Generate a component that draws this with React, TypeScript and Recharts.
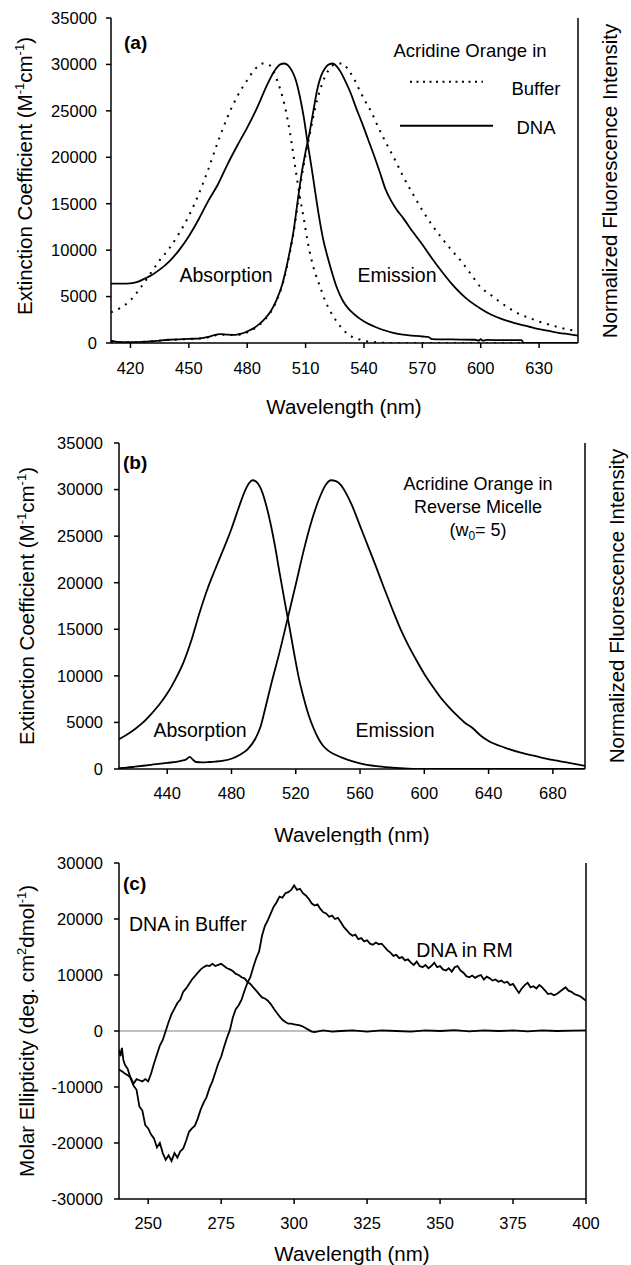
import React from "react";
import { LineChart, Line, XAxis, YAxis, Legend, ReferenceLine } from "recharts";

type Pt = [number, number];

// (a) Acridine Orange in buffer (dotted) and bound to DNA (solid)
const absBufferA: Pt[] = [
  [410, 3300], [415, 3800], [420, 4600], [425, 5900], [430, 7400], [435, 8900], [440, 10200],
  [445, 11800], [450, 13700], [455, 16000], [460, 18700], [465, 21700], [470, 24400], [475, 26600],
  [480, 28300], [484, 29500], [488, 30100], [491, 30000], [494, 29000], [497, 27300], [499, 25800],
  [501, 23800], [503, 21300], [505, 18500], [507, 15800], [509, 13500], [511, 11000], [513, 9000],
  [515, 7500], [517, 6300], [520, 4600], [523, 3300], [526, 2300], [529, 1500], [532, 900],
  [536, 500], [540, 250], [545, 100], [550, 30], [555, 0], [650, 0],
];
const emBufferA: Pt[] = [
  [410, 100], [420, 80], [430, 180], [440, 330], [450, 430], [455, 470], [460, 620], [463, 800],
  [466, 900], [470, 870], [474, 850], [477, 950], [480, 1150], [483, 1450], [486, 1900], [489, 2500],
  [492, 3300], [495, 4500], [498, 6200], [500, 7800], [502, 9800], [504, 12100], [506, 15000],
  [508, 17900], [510, 20200], [512, 22300], [514, 24400], [516, 26200], [518, 27600], [520, 28700],
  [523, 29700], [526, 30100], [529, 30100], [532, 29400], [535, 28400], [538, 27100], [541, 25900],
  [544, 24800], [547, 23400], [550, 22100], [553, 20900], [556, 19700], [560, 18000], [565, 16100],
  [570, 14300], [575, 12700], [580, 11300], [585, 10000], [590, 8800], [595, 7400], [600, 6000],
  [605, 5200], [610, 4400], [615, 3700], [620, 3100], [625, 2700], [630, 2300], [635, 2000],
  [640, 1700], [645, 1450], [650, 1250],
];
const absDnaA: Pt[] = [
  [410, 6400], [414, 6400], [418, 6400], [421, 6450], [424, 6600], [427, 6900], [430, 7200],
  [435, 7900], [440, 8800], [445, 10000], [450, 11500], [455, 13300], [460, 15300], [465, 17100],
  [470, 19300], [475, 21300], [480, 23200], [485, 25300], [490, 27700], [494, 29300], [497, 30000],
  [499, 30100], [501, 29900], [503, 29300], [505, 28300], [507, 26600], [509, 24400], [511, 21600],
  [513, 19000], [515, 16200], [517, 13500], [519, 11200], [521, 9500], [523, 8000], [526, 6000],
  [529, 4600], [532, 3700], [535, 3100], [538, 2600], [541, 2200], [545, 1800], [550, 1400],
  [555, 1100], [560, 900], [565, 800], [570, 700], [573, 650], [575, 420], [585, 380], [597, 350],
  [599, 250], [600, 420], [601, 250], [603, 330], [612, 300], [621, 300], [622, 0], [650, 0],
];
const emDnaA: Pt[] = [
  [410, 250], [413, 120], [420, 80], [430, 180], [440, 350], [450, 450], [455, 480], [460, 650],
  [463, 850], [466, 950], [470, 900], [474, 880], [477, 1000], [480, 1250], [483, 1550], [486, 2000],
  [489, 2600], [492, 3400], [495, 4600], [498, 6300], [500, 8000], [502, 10000], [504, 12300],
  [506, 15400], [508, 18300], [510, 20600], [512, 22600], [514, 25000], [516, 27300], [518, 28800],
  [520, 29600], [522, 30000], [524, 30100], [526, 29800], [528, 29200], [530, 28400], [533, 27000],
  [536, 25300], [539, 23700], [542, 22000], [545, 20300], [548, 18500], [551, 16600], [554, 15300],
  [557, 14300], [560, 13500], [565, 12000], [570, 10600], [575, 9100], [580, 7700], [585, 6400],
  [590, 5300], [595, 4400], [600, 3700], [605, 3100], [610, 2650], [615, 2300], [620, 2000],
  [625, 1750], [630, 1500], [635, 1300], [640, 1100], [645, 950], [650, 800],
];
const ticksXA = [420, 450, 480, 510, 540, 570, 600, 630];
const ticksYAB = [0, 5000, 10000, 15000, 20000, 25000, 30000, 35000];
const legendNamesA = ["Buffer", "DNA"];

// (b) Acridine Orange in reverse micelle, w0 = 5
const absRmB: Pt[] = [
  [410, 3200], [415, 3700], [420, 4300], [425, 5000], [430, 5900], [435, 6900], [440, 8100],
  [445, 9600], [450, 11400], [455, 13800], [460, 16700], [465, 19300], [470, 21500], [475, 23600],
  [480, 25800], [485, 28300], [488, 29700], [491, 30700], [493, 31000], [495, 30900], [498, 30200],
  [501, 28700], [504, 26600], [507, 24000], [510, 21000], [513, 18100], [516, 15300], [519, 12400],
  [522, 9700], [525, 7600], [528, 5800], [531, 4400], [534, 3300], [537, 2500], [540, 2000],
  [545, 1500], [550, 1150], [555, 850], [560, 600], [570, 300], [580, 150], [590, 50], [600, 0],
  [700, 0],
];
const emRmB: Pt[] = [
  [410, 80], [415, 150], [420, 250], [430, 450], [440, 650], [448, 850], [452, 1050], [454, 1300],
  [456, 1000], [458, 750], [462, 720], [466, 750], [470, 800], [475, 900], [480, 1100], [485, 1500],
  [490, 2100], [495, 3300], [498, 4500], [501, 6500], [505, 9300], [510, 12600], [515, 16200],
  [520, 19800], [525, 23500], [530, 26700], [535, 29200], [539, 30600], [542, 31000], [545, 30900],
  [548, 30500], [551, 29700], [555, 28300], [560, 26100], [565, 23900], [570, 21700], [575, 19400],
  [580, 17200], [585, 15100], [590, 13300], [595, 11700], [600, 10200], [605, 8900], [610, 7700],
  [615, 6700], [620, 5800], [625, 5000], [630, 4400], [635, 3600], [640, 3000], [650, 2300],
  [660, 1750], [670, 1350], [680, 970], [690, 650], [700, 330],
];
const ticksXB = [440, 480, 520, 560, 600, 640, 680];

// (c) CD spectra of DNA
const cdBufferC: Pt[] = [
  [240, -6900], [241, -7200], [242, -7600], [243, -7900], [244, -8300], [245, -9400], [246, -8600],
  [247, -8800], [248, -9000], [249, -8600], [250, -9000], [251, -7600], [252, -5800], [253, -4200],
  [254, -2600], [255, -1600], [256, 0], [257, 1600], [258, 3000], [259, 4000], [260, 5000],
  [261, 5600], [262, 7000], [263, 7600], [264, 8400], [265, 9200], [266, 9800], [267, 10400],
  [268, 11000], [269, 11400], [270, 11700], [271, 11600], [272, 12000], [273, 11600], [274, 11800],
  [275, 12000], [276, 11600], [277, 11200], [278, 11000], [279, 10700], [280, 10200], [281, 10000],
  [282, 9600], [283, 9400], [284, 8800], [285, 8400], [286, 7800], [287, 7200], [288, 6600],
  [289, 6000], [290, 5800], [291, 5400], [292, 4800], [293, 4000], [294, 3300], [295, 2600],
  [296, 2000], [297, 1600], [298, 1300], [299, 1300], [300, 1200], [301, 1100], [302, 1000],
  [303, 800], [304, 500], [305, 200], [306, -100], [307, -200], [310, 100], [313, -100], [316, 0],
  [320, 100], [325, -100], [330, 100], [335, 0], [340, -100], [345, 100], [350, 0], [355, 150],
  [360, -50], [365, 100], [370, 0], [375, 100], [380, -50], [385, 100], [390, 0], [395, 50],
  [400, 100],
];
const cdRmC: Pt[] = [
  [240, -3300], [240.5, -4500], [241, -3000], [241.5, -5200], [242, -6000], [243, -6800],
  [244, -8500], [245, -9800], [246, -10500], [247, -13500], [248, -14200], [249, -16800],
  [250, -17400], [251, -18500], [252, -19200], [253, -20800], [254, -20000], [255, -21800],
  [256, -23000], [257, -22200], [258, -23200], [259, -21800], [260, -22600], [261, -21500],
  [262, -21000], [263, -19600], [264, -18000], [265, -17400], [266, -16900], [267, -15600],
  [268, -14000], [269, -12800], [270, -11800], [271, -10200], [272, -9000], [273, -7400],
  [274, -5800], [275, -4600], [276, -2800], [277, -1200], [278, 200], [279, 2400], [280, 3900],
  [281, 4600], [282, 5600], [283, 7200], [284, 8600], [285, 9600], [286, 11400], [287, 13000],
  [288, 14200], [289, 17000], [290, 18800], [291, 19800], [292, 21000], [293, 22200], [294, 23000],
  [295, 24000], [296, 23800], [297, 24600], [298, 24800], [299, 25200], [300, 26000], [301, 25200],
  [302, 25400], [303, 24600], [304, 24200], [305, 23600], [306, 22800], [307, 22400], [308, 22600],
  [309, 21800], [310, 21200], [311, 21000], [312, 20400], [313, 20600], [314, 20000], [315, 20200],
  [316, 19400], [317, 18600], [318, 18000], [319, 17400], [320, 17000], [321, 17200], [322, 16400],
  [323, 16600], [324, 16000], [325, 16200], [326, 15600], [327, 15400], [328, 15800], [329, 15500],
  [330, 15600], [331, 15000], [332, 14400], [333, 14000], [334, 13400], [335, 13600], [336, 13000],
  [337, 13200], [338, 12600], [339, 12800], [340, 12200], [341, 11800], [342, 12400], [343, 11600],
  [344, 11400], [345, 11800], [346, 11200], [347, 11600], [348, 12200], [349, 11400], [350, 11600],
  [351, 11000], [352, 10800], [353, 11200], [354, 10600], [355, 11400], [356, 11600], [357, 10800],
  [358, 10400], [359, 9800], [360, 9600], [361, 9900], [362, 9500], [363, 9800], [364, 10000],
  [365, 9200], [366, 9700], [367, 9400], [368, 9000], [369, 9200], [370, 8800], [371, 9000],
  [372, 8600], [373, 8800], [374, 8200], [375, 8400], [376, 7600], [377, 6800], [378, 7600],
  [379, 8200], [380, 8600], [381, 7800], [382, 8000], [383, 7600], [384, 8200], [385, 7800],
  [386, 7200], [387, 6600], [388, 6700], [389, 6400], [390, 6600], [391, 7000], [392, 7400],
  [393, 7800], [394, 7200], [395, 7000], [396, 6600], [397, 6400], [398, 6200], [399, 5800],
  [400, 5400],
];
const ticksXC = [250, 275, 300, 325, 350, 375, 400];
const ticksYC = [-30000, -20000, -10000, 0, 10000, 20000, 30000];

const rows = (pts: Pt[]) => pts.map(([x, v]) => ({ x, v }));

const FONT = "'Liberation Sans', Arial, Helvetica, sans-serif";
const tickStyle = { fill: "#000", fontSize: 16.5 };
const axisLine = { stroke: "#000", strokeWidth: 1.5 };
const tickLine = { stroke: "#000", strokeWidth: 1.5 };
const blank = () => "";
const TITLE = 20.5;
const NOTE = 19.5;
const PANEL = 19;

function LegendA({ payload }: any) {
  const items = (payload || []).filter(
    (e: any) => e.type !== "none" && legendNamesA.includes(e.value)
  );
  items.sort((a: any, b: any) => legendNamesA.indexOf(a.value) - legendNamesA.indexOf(b.value));
  const textDy = [13, 8];
  return (
    <svg width={200} height={105} style={{ display: "block", overflow: "visible" }}>
      <text x={80} y={21} textAnchor="middle" fontSize={18.5} fill="#000">
        Acridine Orange in
      </text>
      {items.map((e: any, i: number) => {
        const y = 45.7 + i * 44;
        const dashed = !!e.payload?.strokeDasharray;
        return (
          <g key={e.value}>
            <line
              x1={dashed ? 20 : 10}
              x2={dashed ? 93 : 103}
              y1={y}
              y2={y}
              stroke="#000"
              strokeWidth={2}
              strokeDasharray={dashed ? "2 4.5" : undefined}
            />
            <text x={146} y={y + (textDy[i] ?? 10)} textAnchor="middle" fontSize={18.5} fill="#000">
              {e.value}
            </text>
          </g>
        );
      })}
    </svg>
  );
}

function rot(x: number, y: number) {
  return `rotate(-90 ${x} ${y})`;
}

function PanelA() {
  return (
    <LineChart width={631} height={421} margin={{ top: 18, right: 0, bottom: 0, left: 0 }}>
      <XAxis
        type="number"
        dataKey="x"
        domain={[410, 650]}
        ticks={ticksXA}
        interval={0}
        allowDataOverflow
        height={78}
        tick={tickStyle}
        tickSize={5}
        tickMargin={14}
        axisLine={axisLine}
        tickLine={tickLine}
      />
      <XAxis xAxisId="top" orientation="top" type="number" domain={[410, 650]} height={0} tick={false} tickLine={false} axisLine={axisLine} />
      <YAxis
        domain={[0, 35000]}
        ticks={ticksYAB}
        interval={0}
        allowDataOverflow
        width={111}
        tick={tickStyle}
        tickSize={5}
        tickMargin={9}
        axisLine={axisLine}
        tickLine={tickLine}
      />
      <YAxis
        yAxisId="r"
        orientation="right"
        domain={[0, 35000]}
        ticks={ticksYAB}
        interval={0}
        width={53}
        tickSize={4}
        tickFormatter={blank}
        axisLine={axisLine}
        tickLine={tickLine}
      />
      <Legend
        layout="horizontal"
        verticalAlign="middle"
        align="center"
        content={<LegendA />}
        wrapperStyle={{ left: 390, top: 36, width: 200, height: 105 }}
      />
      <Line data={rows(absBufferA)} dataKey="v" name="Buffer" type="monotone" stroke="#000" strokeWidth={2} strokeDasharray="2 6" dot={false} activeDot={false} isAnimationActive={false} />
      <Line data={rows(emBufferA)} dataKey="v" name="Buffer emission" legendType="none" type="monotone" stroke="#000" strokeWidth={2} strokeDasharray="2 6" dot={false} activeDot={false} isAnimationActive={false} />
      <Line data={rows(absDnaA)} dataKey="v" name="DNA" type="monotone" stroke="#000" strokeWidth={1.8} dot={false} activeDot={false} isAnimationActive={false} />
      <Line data={rows(emDnaA)} dataKey="v" name="DNA emission" legendType="none" type="monotone" stroke="#000" strokeWidth={1.8} dot={false} activeDot={false} isAnimationActive={false} />
      <text x={124} y={49} fontSize={PANEL} fontWeight="bold" fill="#000">(a)</text>
      <text x={226} y={282} textAnchor="middle" fontSize={NOTE} fill="#000">Absorption</text>
      <text x={397} y={282} textAnchor="middle" fontSize={NOTE} fill="#000">Emission</text>
      <text x={344} y={414} textAnchor="middle" fontSize={TITLE} fill="#000">Wavelength (nm)</text>
      <text x={32} y={176} transform={rot(32, 176)} textAnchor="middle" fontSize={TITLE} fill="#000">
        Extinction Coefficient (M<tspan dy={-8} fontSize={13}>-1</tspan>
        <tspan dy={8}>cm</tspan>
        <tspan dy={-8} fontSize={13}>-1</tspan>
        <tspan dy={8}>)</tspan>
      </text>
      <text x={617} y={181} transform={rot(617, 181)} textAnchor="middle" fontSize={TITLE} fill="#000">
        Normalized Fluorescence Intensity
      </text>
    </LineChart>
  );
}

function PanelB() {
  return (
    <LineChart width={631} height={424} margin={{ top: 22, right: 0, bottom: 0, left: 0 }}>
      <XAxis
        type="number"
        dataKey="x"
        domain={[410, 700]}
        ticks={ticksXB}
        interval={0}
        allowDataOverflow
        height={76}
        tick={tickStyle}
        tickSize={5}
        tickMargin={13}
        axisLine={axisLine}
        tickLine={tickLine}
      />
      <XAxis xAxisId="top" orientation="top" type="number" domain={[410, 700]} height={0} tick={false} tickLine={false} axisLine={axisLine} />
      <YAxis
        domain={[0, 35000]}
        ticks={ticksYAB}
        interval={0}
        allowDataOverflow
        width={119}
        tick={tickStyle}
        tickSize={5}
        tickMargin={11}
        axisLine={axisLine}
        tickLine={tickLine}
      />
      <YAxis
        yAxisId="r"
        orientation="right"
        domain={[0, 35000]}
        ticks={ticksYAB}
        interval={0}
        width={46}
        tickSize={4}
        tickFormatter={blank}
        axisLine={axisLine}
        tickLine={tickLine}
      />
      <Line data={rows(absRmB)} dataKey="v" name="Absorption" type="monotone" stroke="#000" strokeWidth={1.8} dot={false} activeDot={false} isAnimationActive={false} />
      <Line data={rows(emRmB)} dataKey="v" name="Emission" type="monotone" stroke="#000" strokeWidth={1.8} dot={false} activeDot={false} isAnimationActive={false} />
      <text x={123} y={48} fontSize={PANEL} fontWeight="bold" fill="#000">(b)</text>
      <text x={478} y={68.6} textAnchor="middle" fontSize={18} fill="#000">Acridine Orange in</text>
      <text x={478} y={92} textAnchor="middle" fontSize={18} fill="#000">Reverse Micelle</text>
      <text x={478} y={115} textAnchor="middle" fontSize={18} fill="#000">
        (w<tspan dy={4} fontSize={12}>0</tspan>
        <tspan dy={-4}>= 5)</tspan>
      </text>
      <text x={200} y={315.7} textAnchor="middle" fontSize={NOTE} fill="#000">Absorption</text>
      <text x={395} y={315.7} textAnchor="middle" fontSize={NOTE} fill="#000">Emission</text>
      <text x={352} y={421} textAnchor="middle" fontSize={TITLE} fill="#000">Wavelength (nm)</text>
      <text x={34} y={185} transform={rot(34, 185)} textAnchor="middle" fontSize={TITLE} fill="#000">
        Extinction Coefficient (M<tspan dy={-8} fontSize={13}>-1</tspan>
        <tspan dy={8}>cm</tspan>
        <tspan dy={-8} fontSize={13}>-1</tspan>
        <tspan dy={8}>)</tspan>
      </text>
      <text x={624} y={185} transform={rot(624, 185)} textAnchor="middle" fontSize={TITLE} fill="#000">
        Normalized Fluorescence Intensity
      </text>
    </LineChart>
  );
}

function PanelC() {
  return (
    <LineChart width={631} height={420} margin={{ top: 18, right: 0, bottom: 0, left: 0 }}>
      <XAxis
        type="number"
        dataKey="x"
        domain={[240, 400]}
        ticks={ticksXC}
        interval={0}
        allowDataOverflow
        height={66}
        tick={tickStyle}
        tickSize={5}
        tickMargin={13}
        axisLine={axisLine}
        tickLine={tickLine}
      />
      <XAxis xAxisId="top" orientation="top" type="number" domain={[240, 400]} height={0} tick={false} tickLine={false} axisLine={axisLine} />
      <YAxis
        domain={[-30000, 30000]}
        ticks={ticksYC}
        interval={0}
        allowDataOverflow
        width={119}
        tick={tickStyle}
        tickSize={5}
        tickMargin={11}
        axisLine={axisLine}
        tickLine={tickLine}
      />
      <YAxis yAxisId="r" orientation="right" domain={[-30000, 30000]} width={45} tick={false} tickLine={false} axisLine={axisLine} />
      <ReferenceLine y={0} stroke="#808080" strokeWidth={1.2} />
      <Line data={rows(cdBufferC)} dataKey="v" name="DNA in Buffer" type="linear" stroke="#000" strokeWidth={1.8} dot={false} activeDot={false} isAnimationActive={false} />
      <Line data={rows(cdRmC)} dataKey="v" name="DNA in RM" type="linear" stroke="#000" strokeWidth={1.8} dot={false} activeDot={false} isAnimationActive={false} />
      <text x={123} y={45} fontSize={PANEL} fontWeight="bold" fill="#000">(c)</text>
      <text x={129} y={85.7} fontSize={NOTE} fill="#000">DNA in Buffer</text>
      <text x={464.5} y={111.7} textAnchor="middle" fontSize={NOTE} fill="#000">DNA in RM</text>
      <text x={352} y={415.5} textAnchor="middle" fontSize={TITLE} fill="#000">Wavelength (nm)</text>
      <text x={34} y={186} transform={rot(34, 186)} textAnchor="middle" fontSize={TITLE} fill="#000">
        Molar Ellipticity (deg. cm<tspan dy={-8} fontSize={13}>2</tspan>
        <tspan dy={8}>dmol</tspan>
        <tspan dy={-8} fontSize={13}>-1</tspan>
        <tspan dy={8}>)</tspan>
      </text>
    </LineChart>
  );
}

export default function App() {
  return (
    <div style={{ position: "relative", width: 631, height: 1265, background: "#fff", fontFamily: FONT }}>
      <style>{"body{margin:0}"}</style>
      <div style={{ position: "absolute", left: 0, top: 0 }}>
        <PanelA />
      </div>
      <div style={{ position: "absolute", left: 0, top: 421 }}>
        <PanelB />
      </div>
      <div style={{ position: "absolute", left: 0, top: 845 }}>
        <PanelC />
      </div>
    </div>
  );
}
